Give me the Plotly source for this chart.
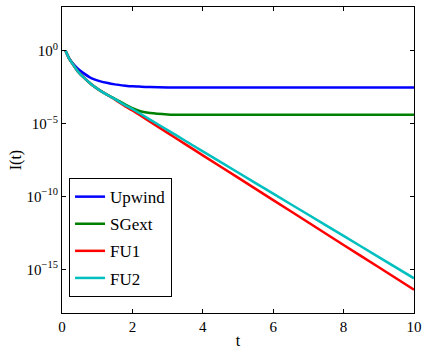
import plotly.graph_objects as go

t = [0.1, 0.2, 0.3, 0.45, 0.6, 0.83, 1.0, 1.3, 1.5, 1.8, 2.0, 2.25, 2.5, 3.0, 3.5, 4, 5, 6, 7, 8, 9, 10]

upwind = [1.0, 0.309, 0.141, 0.0575, 0.0302, 0.0132, 0.0093, 0.0060, 0.0049, 0.0040, 0.0036, 0.0034,
          0.0032, 0.0030, 0.00295, 0.00295, 0.00295, 0.00295, 0.00295, 0.00295, 0.00295, 0.00295]
sgext = [1.0, 0.302, 0.126, 0.038, 0.0158, 0.00501, 0.00251, 8.91e-4, 5.01e-4, 2.0e-4, 1.15e-4, 6.76e-5,
         5.25e-5, 4.27e-5, 4.0e-5, 3.98e-5, 3.98e-5, 3.98e-5, 3.98e-5, 3.98e-5, 3.98e-5, 3.98e-5]
fu1 = [1.0, 0.302, 0.126, 0.038, 0.0158, 0.00501, 0.00251, 8.91e-4, 4.47e-4, 1.51e-4, 7.94e-5, 3.31e-5,
       1.35e-5, 2.29e-6, 3.89e-7, 6.61e-8, 1.95e-9, 5.62e-11, 1.62e-12, 4.68e-14, 1.38e-15, 3.98e-17]
fu2 = [1.0, 0.302, 0.126, 0.038, 0.0158, 0.00501, 0.00251, 8.91e-4, 4.79e-4, 1.78e-4, 9.99e-5, 4.37e-5,
       1.86e-5, 3.55e-6, 6.61e-7, 1.23e-7, 4.37e-9, 1.55e-10, 5.5e-12, 1.95e-13, 6.76e-15, 2.40e-16]

names = ["Upwind", "SGext", "FU1", "FU2"]
colors = ["#0000ff", "#008000", "#ff0000", "#00bfbf"]
series = [upwind, sgext, fu1, fu2]

x_ticks = [0, 2, 4, 6, 8, 10]
y_tickvals = [1, 1e-5, 1e-10, 1e-15]
y_ticktext = ["10<sup>0</sup>", "10<sup>−5</sup>", "10<sup>−10</sup>", "10<sup>−15</sup>"]

font_family = "Times New Roman, Liberation Serif, serif"

fig = go.Figure()
for i, (name, color, ys) in enumerate(zip(names, colors, series)):
    fig.add_trace(go.Scatter(
        x=t, y=ys, mode="lines", name=name, legendgroup=name,
        line=dict(color=color, width=2.5, shape="spline", smoothing=0.6),
    ))

axis_common = dict(
    showline=True, linecolor="black", linewidth=1, mirror="ticks",
    ticks="inside", ticklen=4, tickcolor="black", showgrid=False, zeroline=False,
    tickfont=dict(family=font_family, size=15, color="black"),
    automargin=False, ticklabeloverflow="allow",
)

fig.update_layout(
    width=422, height=350,
    margin=dict(l=62, r=8, t=7, b=37),
    paper_bgcolor="white", plot_bgcolor="white",
    font=dict(family=font_family, size=15, color="black"),
    showlegend=True,
    legend=dict(
        x=0.02, y=0.052, xanchor="left", yanchor="bottom",
        bordercolor="black", borderwidth=1, bgcolor="white",
        font=dict(family=font_family, size=17, color="black"),
        traceorder="grouped", tracegroupgap=2,
    ),
    xaxis=dict(range=[0, 10], tickvals=x_ticks,
               title=dict(text="t", font=dict(family=font_family, size=16), standoff=0),
               **axis_common),
    yaxis=dict(type="log", range=[-18, 3], tickvals=y_tickvals, ticktext=y_ticktext,
               title=dict(text="I(t)", font=dict(family=font_family, size=16), standoff=0),
               **axis_common),
)

fig.write_html("out.html", config={"displayModeBar": False},
               post_script="document.body.style.margin='0';document.body.style.padding='0';")
